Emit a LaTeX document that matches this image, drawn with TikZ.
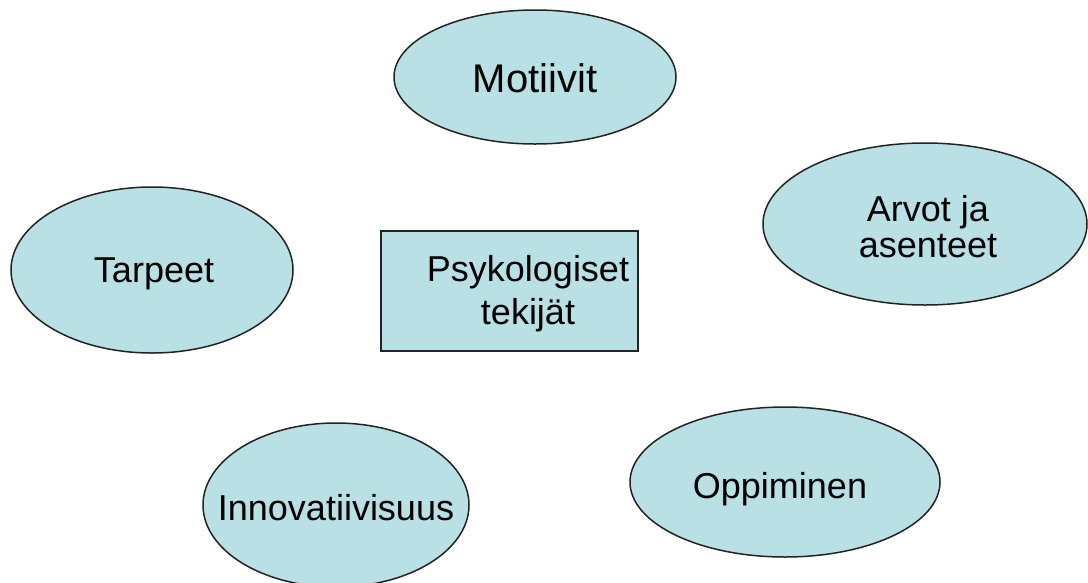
\documentclass[tikz,border=0pt]{standalone}
\usepackage{fontspec}
\setmainfont{Liberation Sans}
\usetikzlibrary{shapes.geometric}
\definecolor{fillc}{RGB}{185,224,228}
\definecolor{linec}{RGB}{35,35,35}
\tikzset{
  bubble/.style={ellipse, draw=linec, line width=1.5pt, fill=fillc, inner sep=0pt},
  box/.style={rectangle, draw=linec, line width=2pt, fill=fillc, inner sep=0pt},
  lbl/.style={font=\fontsize{36}{37}\selectfont, inner sep=0pt, anchor=base},
  lbltwo/.style={inner sep=0pt, anchor=center, align=center},
}
\begin{document}
\begin{tikzpicture}[x=1pt,y=-1pt]
\useasboundingbox (0,0) rectangle (1088,582);
\clip (0,0) rectangle (1088,582);
\fill[white] (0,0) rectangle (1088,582);
% shapes
\node[bubble, minimum width=282pt, minimum height=134pt] (motiivit) at (535,77) {};
\node[bubble, minimum width=324pt, minimum height=162pt] (arvot) at (925,224) {};
\node[bubble, minimum width=282pt, minimum height=166pt] (tarpeet) at (152,270) {};
\node[box, minimum width=257pt, minimum height=120pt] (psyk) at (509.5,291) {};
\node[bubble, minimum width=266pt, minimum height=164pt] (innov) at (336,505) {};
\node[bubble, minimum width=310pt, minimum height=150pt] (oppim) at (785,482) {};
% texts
\node[lbl, font=\fontsize{40}{42}\selectfont] (motiivit-t) at (535,92) {Motiivit};
\node[lbl] (tarpeet-t) at (154,282) {Tarpeet};
\node[lbl] (oppim-t) at (780,498) {Oppiminen};
\node[lbl] (innov-t) at (336,520) {Innovatiivisuus};
\node[lbltwo, font=\fontsize{36}{36}\selectfont] (arvot-t) at (928,227) {Arvot ja\\asenteet};
\node[lbltwo, font=\fontsize{36}{43}\selectfont] (psyk-t) at (528,294) {Psykologiset\\tekijät};
\end{tikzpicture}
\end{document}
